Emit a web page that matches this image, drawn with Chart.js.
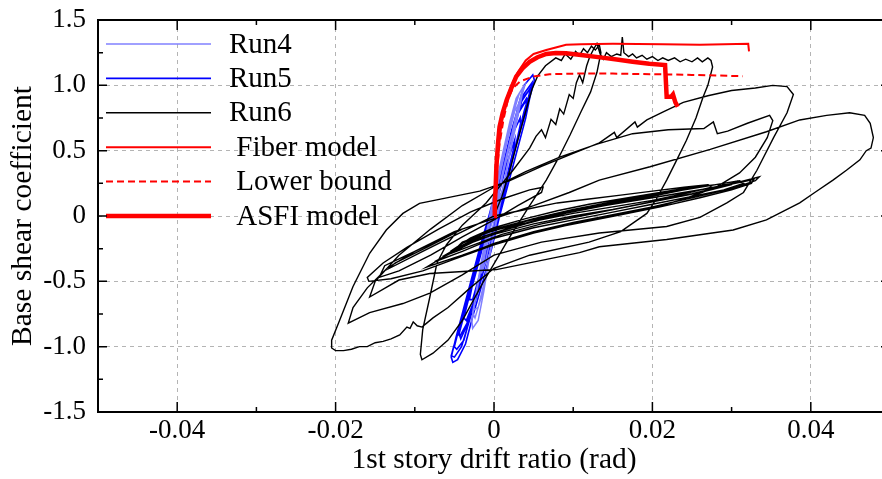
<!DOCTYPE html>
<html>
<head>
<meta charset="utf-8">
<script src="https://cdn.jsdelivr.net/npm/chart.js@4.4.1/dist/chart.umd.min.js"></script>
<style>
  html, body { margin: 0; padding: 0; background: #fff; overflow: hidden; }
  #wrap { width: 892px; height: 479px; }
</style>
</head>
<body>
<div id="wrap"><canvas id="chart" width="892" height="479"></canvas></div>
<script>
const xTicks = [-0.04, -0.02, 0, 0.02, 0.04];
const xTickLabels = ['-0.04', '-0.02', '0', '0.02', '0.04'];
const xMinorTicks = [-0.05, -0.03, -0.01, 0.01, 0.03, 0.05];
const yTicks = [-1.5, -1.0, -0.5, 0, 0.5, 1.0, 1.5];
const yTickLabels = ['-1.5', '-1.0', '-0.5', '0', '0.5', '1.0', '1.5'];
const yMinorTicks = [-1.25, -0.75, -0.25, 0.25, 0.75, 1.25];
const seriesNames = ['Run4', 'Run5', 'Run6', ' Fiber model', ' Lower bound', ' ASFI model'];

// drift ratio (rad), base shear coefficient
const run4 = [
  [0,0],[0.0009,0.25],[0.0018,0.5],[0.0027,0.75],[0.0034,0.92],[0.0036,0.98],[0.0028,0.9],[0.002,0.72],
  [0.0011,0.48],[0.0001,0.2],[-0.0008,-0.08],[-0.0016,-0.35],[-0.0023,-0.6],[-0.0028,-0.8],[-0.0027,-0.86],
  [-0.002,-0.8],[-0.0013,-0.58],[-0.0006,-0.32],[0.0003,-0.05],[0.0012,0.22],[0.0021,0.5],[0.003,0.76],
  [0.0036,0.94],[0.0039,1.0],[0.0032,0.94],[0.0024,0.78],[0.0014,0.52],[0.0004,0.24],[-0.0005,-0.04],
  [-0.0014,-0.32],[-0.0022,-0.58],[-0.0026,-0.72],[-0.002,-0.7],[-0.0012,-0.5],[-0.0004,-0.24],[0.0005,0.04],
  [0.0014,0.3],[0.0023,0.58],[0.0031,0.82],[0.0033,0.88],[0.0026,0.8],[0.0017,0.58],[0.0007,0.3],
  [-0.0003,0.02],[-0.0012,-0.26],[-0.002,-0.52],[-0.0027,-0.74],[-0.0024,-0.78],[-0.0016,-0.62],
  [-0.0008,-0.38],[0.0001,-0.1],[0.001,0.18],[0.0019,0.44],[0.0027,0.68],[0.0029,0.74],[0.0021,0.6],
  [0.0011,0.34],[0.0001,0.06],[-0.0009,-0.22],[-0.0016,-0.44],[-0.0011,-0.36],[0.0,-0.04],[0.0008,0.18],
  [0.0003,0.08],[0,0]
];
const run5 = [
  [0,0],[0.0014,0.25],[0.0026,0.5],[0.0036,0.72],[0.0045,0.9],[0.0051,1.04],[0.0049,1.08],
  [0.0038,1.0],[0.0031,0.85],[0.0021,0.6],[0.0009,0.3],[-0.0004,0.05],[-0.0016,-0.2],[-0.0027,-0.45],
  [-0.0038,-0.7],[-0.0048,-0.93],[-0.0054,-1.08],[-0.0052,-1.12],
  [-0.0046,-1.1],[-0.0036,-0.98],[-0.0026,-0.75],[-0.0014,-0.5],[-0.0003,-0.25],[0.0008,0.02],[0.0019,0.27],
  [0.003,0.52],[0.004,0.75],[0.0046,0.93],[0.0044,0.96],
  [0.0033,0.88],[0.0022,0.65],[0.0011,0.38],[-0.0002,0.1],[-0.0013,-0.15],[-0.0025,-0.42],[-0.0036,-0.68],
  [-0.0045,-0.88],[-0.005,-1.0],[-0.0047,-1.02],
  [-0.0038,-0.95],[-0.0028,-0.73],[-0.0016,-0.47],[-0.0005,-0.22],[0.0006,0.04],[0.0017,0.3],[0.0028,0.56],
  [0.0038,0.8],[0.0047,0.98],[0.0048,1.02],
  [0.0036,0.92],[0.0025,0.7],[0.0014,0.44],[0.0001,0.15],[-0.0011,-0.12],[-0.0022,-0.38],[-0.0033,-0.62],
  [-0.0042,-0.82],[-0.0046,-0.9],[-0.0043,-0.92],
  [-0.0034,-0.82],[-0.0023,-0.6],[-0.0012,-0.36],[0.0,-0.1],[0.0011,0.15],[0.0022,0.42],[0.0033,0.67],
  [0.0041,0.85],[0.004,0.88],
  [0.003,0.78],[0.0018,0.52],[0.0005,0.22],[-0.0008,-0.06],[-0.002,-0.33],[-0.0031,-0.58],[-0.0042,-0.82],
  [-0.0051,-1.0],[-0.0054,-1.07],[-0.005,-1.08],
  [-0.0041,-1.0],[-0.0031,-0.8],[-0.0019,-0.55],[-0.0008,-0.3],[0.0004,-0.03],[0.0015,0.23],[0.0026,0.5],
  [0.0036,0.74],[0.0044,0.92],[0.0046,0.98],
  [0.0035,0.88],[0.0024,0.64],[0.0012,0.36],[-0.0001,0.08],[-0.0013,-0.2],[-0.0024,-0.45],[-0.0034,-0.68],
  [-0.0038,-0.78],[-0.0035,-0.8],
  [-0.0027,-0.68],[-0.0016,-0.44],[-0.0004,-0.18],[0.0008,0.08],[0.0019,0.34],[0.0029,0.58],[0.0034,0.72],
  [0.0033,0.75],
  [0.0023,0.62],[0.0011,0.34],[-0.0002,0.05],[-0.0014,-0.22],[-0.0026,-0.5],[-0.0037,-0.74],[-0.0044,-0.9],
  [-0.0042,-0.94],
  [-0.0033,-0.82],[-0.0022,-0.58],[-0.001,-0.32],[0.0002,-0.05],[0.0014,0.22],[0.0025,0.48],[0.0035,0.72],
  [0.0042,0.88],[0.0041,0.9],
  [0.0031,0.8],[0.0019,0.54],[0.0007,0.26],[-0.0005,-0.02],[-0.0017,-0.3],[-0.0028,-0.55],[-0.0031,-0.64],
  [-0.0027,-0.64],
  [-0.0018,-0.45],[-0.0006,-0.2],[0.0006,0.06],[0.0017,0.32],[0.0025,0.52],[0.0026,0.58],
  [0.0016,0.4],[0.0004,0.12],[-0.0006,-0.1],[0,0]
];
const run6 = [
  // first loading and peak
  [0,0],[0.001,0.15],[0.002,0.35],[0.003,0.58],[0.004,0.8],[0.0048,0.97],[0.0055,1.07],[0.0065,1.15],
  [0.0078,1.21],[0.0085,1.19],[0.009,1.24],[0.0097,1.2],[0.0103,1.26],[0.0108,1.23],[0.0113,1.28],
  [0.0118,1.25],[0.0123,1.3],[0.0128,1.27],[0.0133,1.31],[0.0135,1.25],
  [0.013,1.1],[0.0122,0.95],[0.011,0.8],[0.0096,0.62],[0.0082,0.45],[0.0066,0.275],[0.0045,0.08],
  [0.002,-0.16],[-0.0014,-0.51],[-0.004,-0.8],[-0.0058,-0.95],[-0.0077,-1.05],[-0.0091,-1.1],[-0.0093,-1.06],
  // reload to plateau
  [-0.009,-0.87],[-0.0081,-0.62],[-0.0072,-0.36],[-0.006,-0.22],[-0.004,-0.07],[-0.001,0.1],[0.0024,0.35],
  [0.0045,0.52],[0.0053,0.61],[0.006,0.66],[0.0065,0.6],[0.0072,0.74],[0.0078,0.7],[0.0083,0.82],
  [0.0088,0.78],[0.0095,0.93],[0.01,0.9],[0.0104,1.02],[0.0108,1.08],[0.0112,1.02],[0.0117,1.15],
  [0.0121,1.22],[0.0126,1.28],[0.013,1.32],[0.0134,1.24],[0.0138,1.2],[0.0142,1.25],[0.0148,1.22],
  [0.0155,1.24],[0.016,1.23],[0.0162,1.37],[0.0164,1.25],[0.017,1.22],[0.0175,1.24],[0.018,1.21],
  [0.0187,1.23],[0.0193,1.2],[0.02,1.22],[0.0207,1.19],[0.0213,1.21],[0.022,1.19],[0.0228,1.21],
  [0.0235,1.18],[0.0242,1.2],[0.025,1.18],[0.0257,1.21],[0.0263,1.18],[0.027,1.21],[0.0274,1.19],[0.0276,1.14],
  // unload to negative peak
  [0.027,1.0],[0.0264,0.91],[0.0255,0.75],[0.0243,0.58],[0.023,0.42],[0.0218,0.275],[0.0205,0.13],
  [0.0193,0.02],[0.016,-0.12],[0.012,-0.2],[0.0045,-0.3],[0.0,-0.4],[-0.003,-0.55],[-0.0058,-0.7],
  [-0.0077,-0.78],[-0.0085,-0.82],[-0.0091,-0.85],[-0.0097,-0.84],[-0.0102,-0.81],[-0.0106,-0.86],
  [-0.011,-0.85],[-0.0119,-0.91],[-0.013,-0.94],[-0.014,-0.96],[-0.015,-0.97],[-0.016,-1.0],[-0.017,-1.0],
  [-0.018,-1.02],[-0.019,-1.03],[-0.02,-1.03],[-0.0205,-1.01],
  // large cycle to the right
  [-0.0205,-0.95],[-0.0195,-0.8],[-0.0178,-0.54],[-0.0157,-0.285],[-0.0136,-0.107],[-0.0115,0.02],
  [-0.0094,0.097],[-0.0052,0.148],[-0.0018,0.19],[0.002,0.27],[0.006,0.38],[0.01,0.48],[0.0133,0.56],
  [0.0152,0.64],[0.0155,0.6],[0.0178,0.72],[0.0181,0.68],[0.0193,0.735],[0.0215,0.8],[0.0239,0.87],
  [0.027,0.92],[0.03,0.96],[0.033,0.98],[0.0352,1.0],[0.037,0.99],[0.0378,0.93],
  [0.037,0.79],[0.0353,0.6],[0.0332,0.35],[0.0315,0.18],[0.0294,0.1],[0.026,-0.01],[0.0218,-0.08],
  [0.0133,-0.13],[0.006,-0.2],[0.0,-0.3],[-0.004,-0.45],[-0.0081,-0.59],[-0.0115,-0.67],[-0.0157,-0.74],[-0.0184,-0.82],
  [-0.0178,-0.7],[-0.016,-0.55],[-0.0135,-0.4],[-0.01,-0.27],[-0.005,-0.12],[0.0,-0.02],[0.005,0.08],
  [0.0095,0.18],[0.0133,0.275],[0.0197,0.377],[0.0273,0.51],[0.0344,0.645],[0.0386,0.735],[0.042,0.77],
  [0.0449,0.79],[0.0468,0.77],[0.0475,0.71],[0.0479,0.6],[0.0476,0.52],[0.047,0.5],[0.0462,0.43],
  [0.0445,0.35],[0.0428,0.275],[0.0405,0.18],[0.0386,0.1],[0.0344,-0.03],[0.0302,-0.107],[0.0218,-0.18],
  [0.0133,-0.235],[0.0108,-0.28],[0.0003,-0.41],[-0.0081,-0.44],[-0.012,-0.49],[-0.0157,-0.62],
  [-0.015,-0.5],[-0.012,-0.3],[-0.008,-0.1],[-0.004,0.08],[0.0,0.22],[0.004,0.34],[0.0083,0.45],
  [0.013,0.55],[0.0175,0.63],[0.022,0.66],[0.0265,0.67],[0.0277,0.72],[0.0282,0.63],[0.0295,0.65],
  [0.032,0.71],[0.0348,0.77],[0.0352,0.73],[0.0345,0.6],[0.033,0.45],[0.031,0.33],[0.028,0.22],
  [0.024,0.13],[0.02,0.06],[0.015,0.0],[0.01,-0.06],[0.005,-0.13],[0.0,-0.22],[-0.005,-0.33],[-0.009,-0.42],
  // smaller cycles on the left
  [-0.013,-0.48],[-0.0158,-0.5],[-0.016,-0.47],[-0.014,-0.36],[-0.011,-0.24],[-0.007,-0.1],[-0.003,0.03],
  [0.001,0.13],[0.0045,0.2],[0.0062,0.22],[0.006,0.18],[0.003,0.08],[0.0,-0.03],[-0.004,-0.16],
  [-0.008,-0.3],[-0.012,-0.42],[-0.0145,-0.47],[-0.0138,-0.38],[-0.011,-0.3],[-0.0075,-0.2],[-0.004,-0.1],
  [-0.0078,-0.22],[-0.0125,-0.36],[-0.0132,-0.4],
  // decaying cycles
  [-0.009,-0.27],[-0.004,-0.12],[0.0,0.0],[0.004,0.05],[0.008,0.1],[0.012,0.13],[0.016,0.16],[0.02,0.19],
  [0.024,0.22],[0.027,0.24],[0.0275,0.22],[0.024,0.17],[0.02,0.12],[0.015,0.07],[0.01,0.02],[0.005,-0.04],
  [0.0,-0.11],[-0.004,-0.2],[-0.0045,-0.23],
  [-0.003,-0.17],[0.0,-0.09],[0.004,-0.02],[0.008,0.04],[0.012,0.09],[0.016,0.13],[0.02,0.17],[0.024,0.21],
  [0.028,0.24],[0.0292,0.25],[0.0285,0.22],[0.025,0.17],[0.02,0.11],[0.015,0.05],[0.01,0.0],[0.005,-0.06],
  [0.0,-0.14],[-0.004,-0.23],[-0.0055,-0.27],
  [-0.004,-0.21],[0.0,-0.1],[0.005,-0.02],[0.01,0.05],[0.015,0.11],[0.02,0.16],[0.025,0.21],[0.029,0.25],
  [0.0305,0.265],[0.03,0.24],[0.026,0.18],[0.021,0.12],[0.016,0.06],[0.011,0.0],[0.006,-0.06],[0.001,-0.14],
  [-0.003,-0.23],[-0.0065,-0.31],
  [-0.0045,-0.24],[-0.001,-0.13],[0.004,-0.04],[0.009,0.03],[0.014,0.09],[0.019,0.14],[0.024,0.2],
  [0.028,0.24],[0.031,0.27],[0.0315,0.25],[0.029,0.2],[0.025,0.15],[0.02,0.09],[0.015,0.03],[0.01,-0.03],
  [0.005,-0.09],[0.0,-0.17],[-0.004,-0.27],[-0.0075,-0.35],
  [-0.005,-0.27],[-0.001,-0.15],[0.004,-0.06],[0.009,0.02],[0.014,0.08],[0.019,0.13],[0.024,0.18],
  [0.028,0.22],[0.032,0.27],[0.0328,0.28],[0.0325,0.25],[0.03,0.2],[0.026,0.14],[0.021,0.07],[0.016,0.01],
  [0.011,-0.05],[0.006,-0.11],[0.001,-0.19],[-0.004,-0.3],[-0.0085,-0.39],
  [-0.006,-0.3],[-0.002,-0.17],[0.003,-0.07],[0.008,0.01],[0.013,0.07],[0.018,0.12],[0.023,0.17],
  [0.027,0.21],[0.031,0.26],[0.0335,0.3],[0.033,0.27],[0.03,0.21],[0.025,0.14],[0.02,0.07],[0.015,0.01],
  [0.01,-0.05],[0.005,-0.12],[0.0,-0.21],[-0.005,-0.33],[-0.009,-0.42]
];
const fiberModel = [
  [0,0],[0.0002,0.2],[0.0004,0.4],[0.0007,0.6],[0.0011,0.77],[0.0016,0.9],[0.0022,1.0],[0.003,1.1],
  [0.004,1.19],[0.005,1.24],[0.0066,1.27],[0.0078,1.29],[0.0091,1.31],[0.011,1.315],[0.015,1.318],
  [0.0213,1.315],[0.026,1.31],[0.0321,1.318],[0.0322,1.26]
];
const lowerBound = [
  [0,0],[0.0003,0.3],[0.0007,0.55],[0.0012,0.74],[0.0018,0.9],[0.0024,0.98],[0.0033,1.03],[0.0049,1.066],
  [0.007,1.085],[0.0108,1.09],[0.015,1.09],[0.02,1.085],[0.025,1.08],[0.0314,1.07]
];
const asfiModel = [
  [0,0],[0.0001,0.1],[0.0002,0.2],[0.0003,0.377],[0.0005,0.55],[0.0007,0.683],[0.0011,0.79],[0.0016,0.887],
  [0.0022,0.98],[0.0028,1.066],[0.0036,1.13],[0.0045,1.18],[0.0055,1.215],[0.0066,1.24],[0.0078,1.248],
  [0.0091,1.245],[0.011,1.232],[0.0134,1.214],[0.0155,1.197],[0.0175,1.18],[0.0196,1.165],[0.0216,1.155],
  [0.0218,0.913],[0.0224,0.915],[0.0226,0.93],[0.0229,0.87],[0.0232,0.836]
];

const FONT = '"Liberation Serif", "Times New Roman", serif';
const toXY = arr => arr.map(p => ({ x: p[0], y: p[1] }));

function makeSet(name, pts, color, width, order, dash) {
  return {
    label: name,
    data: toXY(pts),
    borderColor: color,
    borderWidth: width,
    borderDash: dash || [],
    showLine: true,
    pointRadius: 0,
    fill: false,
    tension: 0,
    order
  };
}

// legend drawn inside plot, top-left
const insideLegend = {
  id: 'insideLegend',
  afterDraw(chart) {
    const { ctx, chartArea: a } = chart;
    ctx.save();
    ctx.font = '29px ' + FONT;
    ctx.textBaseline = 'middle';
    ctx.fillStyle = '#000';
    chart.data.datasets.forEach((ds, i) => {
      const yy = a.top + 24 + i * 34.4;
      ctx.strokeStyle = ds.borderColor;
      ctx.lineWidth = ds.borderWidth;
      ctx.setLineDash(ds.borderDash || []);
      ctx.beginPath();
      ctx.moveTo(a.left + 8, yy);
      ctx.lineTo(a.left + 113, yy);
      ctx.stroke();
      ctx.fillText(ds.label, a.left + 131, yy + 1);
    });
    ctx.restore();
  }
};

// box frame with inward tick marks
const frameTicks = {
  id: 'frameTicks',
  afterDraw(chart) {
    const { ctx, chartArea: a, scales: { x, y } } = chart;
    ctx.save();
    ctx.strokeStyle = '#000';
    ctx.lineWidth = 1.5;
    ctx.setLineDash([]);
    ctx.beginPath();
    const xMark = (v, len) => {
      const px = x.getPixelForValue(v);
      ctx.moveTo(px, a.bottom); ctx.lineTo(px, a.bottom - len);
      ctx.moveTo(px, a.top); ctx.lineTo(px, a.top + len);
    };
    const yMark = (v, len) => {
      const py = y.getPixelForValue(v);
      ctx.moveTo(a.left, py); ctx.lineTo(a.left + len, py);
      ctx.moveTo(a.right, py); ctx.lineTo(a.right - len, py);
    };
    xTicks.forEach(v => xMark(v, 10));
    xMinorTicks.forEach(v => xMark(v, 5));
    yTicks.forEach(v => yMark(v, 9));
    yMinorTicks.forEach(v => yMark(v, 5));
    ctx.stroke();
    ctx.lineWidth = 2;
    ctx.strokeRect(a.left, a.top, a.right - a.left, a.bottom - a.top);
    ctx.restore();
  }
};

new Chart(document.getElementById('chart'), {
  type: 'scatter',
  data: {
    datasets: [
      makeSet(seriesNames[0], run4, '#8080ff', 1.5, 4),
      makeSet(seriesNames[1], run5, '#0000ff', 1.6, 5),
      makeSet(seriesNames[2], run6, '#000000', 1.4, 3),
      makeSet(seriesNames[3], fiberModel, '#ff0000', 2, 1),
      makeSet(seriesNames[4], lowerBound, '#ff0000', 2, 2, [7, 4]),
      makeSet(seriesNames[5], asfiModel, '#ff0000', 4.5, 0)
    ]
  },
  options: {
    responsive: false,
    animation: false,
    layout: { padding: { left: 0, top: 20, right: 2, bottom: 0 } },
    plugins: { legend: { display: false }, tooltip: { enabled: false } },
    scales: {
      x: {
        type: 'linear',
        min: -0.05,
        max: 0.05,
        afterBuildTicks: s => { s.ticks = xTicks.map(v => ({ value: v })); },
        afterFit: s => { s.height = 67; s.paddingLeft = 0; s.paddingRight = 0; },
        grid: { color: '#b4b4b4', lineWidth: 1, drawTicks: false },
        border: { display: false, dash: [4, 4] },
        ticks: {
          color: '#000',
          padding: 3,
          maxRotation: 0,
          font: { family: FONT, size: 27 },
          callback: (v, i) => xTickLabels[i]
        },
        title: {
          display: true,
          text: '1st story drift ratio (rad)',
          color: '#000',
          font: { family: FONT, size: 29.5 },
          padding: { top: 0, bottom: 1 }
        }
      },
      y: {
        type: 'linear',
        min: -1.5,
        max: 1.5,
        afterBuildTicks: s => { s.ticks = yTicks.map(v => ({ value: v })); },
        afterFit: s => { s.width = 98; s.paddingTop = 0; s.paddingBottom = 0; },
        grid: { color: '#b4b4b4', lineWidth: 1, drawTicks: false },
        border: { display: false, dash: [4, 4] },
        ticks: {
          color: '#000',
          padding: 12,
          font: { family: FONT, size: 27 },
          callback: (v, i) => yTickLabels[i]
        },
        title: {
          display: true,
          text: 'Base shear coefficient',
          color: '#000',
          font: { family: FONT, size: 29.5 },
          padding: { top: 6, bottom: 0 }
        }
      }
    }
  },
  plugins: [insideLegend, frameTicks]
});
</script>
</body>
</html>
